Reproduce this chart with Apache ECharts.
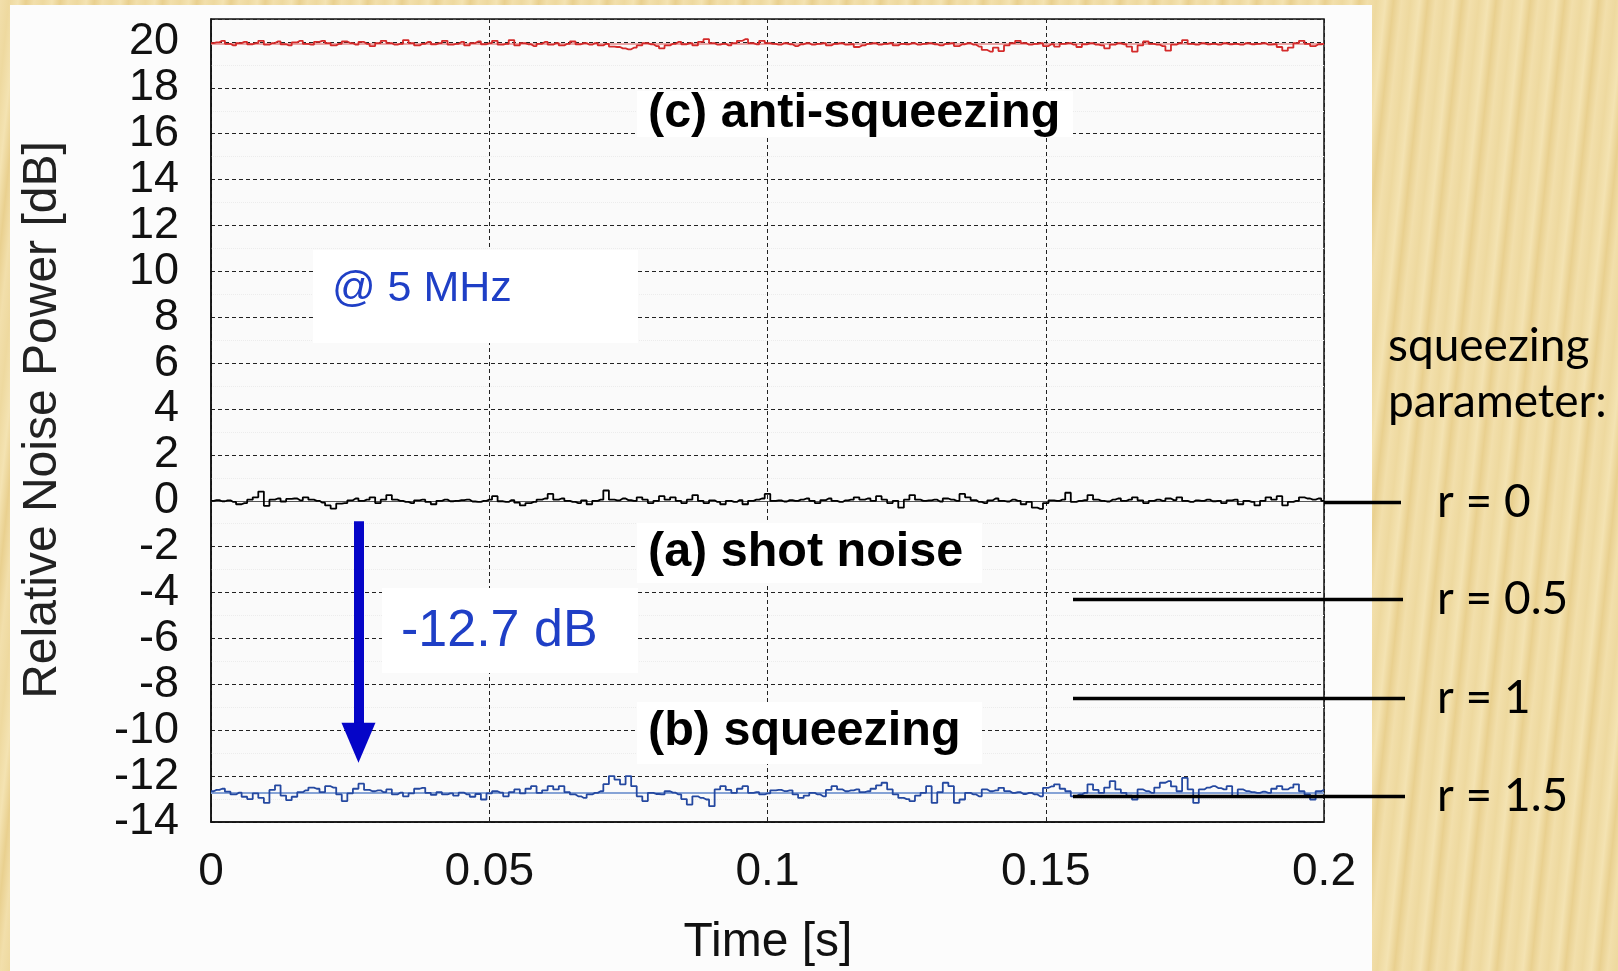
<!DOCTYPE html>
<html><head><meta charset="utf-8">
<script src="https://cdn.jsdelivr.net/npm/echarts@6/dist/echarts.min.js"></script>
<style>
html,body{margin:0;padding:0;width:1618px;height:971px;overflow:hidden;
background:repeating-linear-gradient(96deg,#f2dfab 0px,#eed99f 9px,#f4e3b2 18px,#e9d08f 26px,#f2dfab 34px);}
#panel{position:absolute;left:10px;top:5px;width:1362px;height:966px;background:#fcfcfc;}
#chart{position:absolute;left:0;top:0;width:1618px;height:971px;}
</style></head><body><div id="panel"></div><div id="chart"></div>
<script>
// ---------- data ----------
const SAMPLE_STEP = 0.001; // s between samples
const xTickLabels = ['0', '0.05', '0.1', '0.15', '0.2'];
const yTickValues = [-14, -12, -10, -8, -6, -4, -2, 0, 2, 4, 6, 8, 10, 12, 14, 16, 18, 20];

const antiSqueezing = [
19.95,19.98,20.05,19.92,19.85,19.95,20.00,19.90,19.95,20.05,
19.88,19.95,20.02,19.90,19.85,19.98,20.05,19.92,19.88,20.00,
20.05,19.95,19.85,19.92,20.02,19.95,19.88,20.00,19.92,19.82,
19.95,20.05,19.95,19.88,19.92,20.08,19.95,19.85,19.92,20.00,
19.90,19.95,20.05,19.88,19.92,20.00,19.85,19.95,20.02,19.90,
19.95,20.05,19.88,19.92,20.08,19.85,19.95,19.90,19.82,19.92,
20.00,19.88,19.95,19.85,19.92,20.02,19.90,19.95,19.88,19.95,
19.85,19.92,19.80,19.78,19.72,19.68,19.75,19.85,19.95,19.90,
19.82,19.72,19.85,19.92,20.00,19.90,19.95,19.85,20.00,20.12,
19.95,19.88,19.92,19.85,19.95,20.05,20.12,19.95,19.90,20.05,
19.95,19.92,19.88,19.95,19.90,19.82,19.90,19.95,19.88,19.92,
19.95,19.85,19.92,19.95,19.88,19.90,19.78,19.85,19.92,19.95,
19.88,19.92,19.95,19.85,19.92,19.90,19.95,19.88,19.92,19.95,
19.90,19.85,19.92,19.95,19.82,19.90,19.95,19.88,19.80,19.65,
19.58,19.75,19.60,19.85,19.95,20.05,19.95,19.88,19.92,19.95,
19.82,19.90,19.80,19.92,19.95,19.88,19.78,19.90,19.95,19.88,
19.85,19.72,19.88,19.95,19.90,19.80,19.58,19.85,20.02,19.92,
19.88,19.82,19.62,19.88,19.95,20.08,19.92,19.88,19.95,19.90,
19.92,19.88,19.95,19.90,19.92,19.88,19.95,19.90,19.92,19.95,
19.88,19.90,19.78,19.62,19.75,19.95,20.05,19.92,19.82,19.90,
19.92];

const shotNoise = [
0.00,0.03,-0.02,0.02,-0.05,-0.15,-0.10,0.05,0.15,0.40,
-0.22,0.05,0.10,-0.03,0.08,0.10,0.02,0.15,0.05,0.00,
-0.08,-0.20,-0.34,-0.12,-0.10,0.02,0.10,0.00,0.05,0.15,
-0.10,0.05,0.25,0.05,0.00,-0.05,-0.10,0.02,0.05,-0.05,
-0.15,0.00,0.05,-0.02,0.00,0.03,0.05,-0.03,-0.05,0.00,
0.05,0.20,-0.02,-0.05,0.03,-0.08,-0.20,-0.10,-0.05,0.05,
0.10,0.30,0.05,0.10,0.00,-0.05,-0.10,0.02,-0.15,0.00,
0.05,0.45,0.05,0.02,0.10,0.03,0.00,0.15,0.05,-0.10,
0.00,0.20,0.05,0.15,0.00,-0.10,0.05,0.25,0.00,-0.10,
0.02,-0.05,-0.15,0.00,-0.05,0.03,-0.15,0.00,0.05,0.10,
0.30,0.00,0.02,-0.03,0.03,0.00,0.05,0.10,0.00,-0.10,
0.03,0.10,0.00,-0.05,0.02,0.05,0.15,0.05,0.10,0.00,
0.20,0.05,-0.10,0.00,-0.30,0.05,0.25,0.05,0.00,0.02,
0.05,-0.03,0.10,0.05,0.00,0.30,0.15,0.03,-0.05,-0.10,
0.02,0.10,0.00,-0.03,0.05,0.00,-0.15,-0.05,-0.30,-0.35,
-0.10,0.02,0.00,0.05,0.35,-0.05,0.00,0.03,0.25,0.05,
0.00,-0.03,0.05,0.10,0.00,0.05,0.15,0.02,-0.10,0.00,
0.05,0.00,0.10,0.03,0.15,0.00,-0.05,0.02,0.00,0.05,
-0.02,0.00,-0.10,0.02,0.05,-0.15,0.00,-0.05,-0.20,0.00,
0.15,0.05,0.20,-0.20,-0.05,0.00,0.15,0.10,0.05,0.10,
0.00];

const squeezing = [
-12.66,-12.60,-12.55,-12.68,-12.80,-12.72,-12.90,-13.00,-12.75,-12.95,
-13.17,-12.60,-12.40,-12.85,-13.05,-12.90,-12.70,-12.62,-12.50,-12.55,
-12.70,-12.44,-12.50,-12.80,-13.09,-12.75,-12.55,-12.33,-12.60,-12.66,
-12.62,-12.70,-12.58,-12.80,-12.72,-12.88,-12.75,-12.55,-12.51,-12.73,
-12.82,-12.70,-12.80,-12.75,-12.85,-12.72,-12.80,-12.90,-12.78,-13.02,
-12.75,-12.66,-12.72,-12.88,-12.70,-12.58,-12.75,-12.55,-12.44,-12.73,
-12.62,-12.44,-12.58,-12.44,-12.70,-12.80,-12.88,-12.95,-12.80,-12.73,
-12.66,-12.35,-12.00,-12.15,-12.36,-12.00,-12.44,-12.88,-13.09,-12.73,
-12.78,-12.80,-12.66,-12.72,-12.80,-13.00,-13.24,-12.88,-12.95,-13.02,
-13.31,-12.58,-12.44,-12.60,-12.73,-12.55,-12.44,-12.73,-12.70,-12.80,
-12.75,-12.62,-12.60,-12.65,-12.62,-12.80,-12.95,-12.85,-12.73,-12.80,
-12.88,-12.60,-12.44,-12.58,-12.66,-12.62,-12.58,-12.70,-12.66,-12.55,
-12.40,-12.29,-12.58,-12.80,-12.95,-13.00,-13.09,-12.85,-12.73,-12.44,
-13.17,-12.70,-12.29,-12.44,-13.17,-13.02,-12.73,-12.80,-12.88,-12.58,
-12.66,-12.62,-12.51,-12.65,-12.73,-12.70,-12.78,-12.73,-12.80,-12.88,
-12.51,-12.45,-12.36,-12.55,-12.66,-12.88,-12.80,-12.73,-12.36,-12.60,
-12.73,-12.50,-12.22,-12.58,-12.73,-12.85,-13.02,-12.58,-12.65,-12.73,
-12.50,-12.29,-12.22,-12.45,-12.66,-12.08,-12.58,-13.17,-12.58,-12.50,
-12.44,-12.52,-12.58,-12.44,-12.88,-12.58,-12.65,-12.70,-12.73,-12.68,
-12.73,-12.55,-12.44,-12.58,-12.50,-12.36,-12.66,-12.80,-13.02,-12.66,
-12.60];

// mean levels of each trace
const antiMean = 19.92;
const shotMean = 0;
const squeezingMean = -12.73;

// arrow annotation (time, dB start, dB end)
const arrowTime = 0.0265;
const arrowFrom = -0.89;
const arrowTo = -10.55;

const annotationTexts = ['(c) anti-squeezing', '(a) shot noise', '(b) squeezing'];
const rLabels = ['r = 0', 'r = 0.5', 'r = 1', 'r = 1.5'];

// ---------- chart ----------
const toPairs = arr => arr.map((v, i) => [+(i * SAMPLE_STEP).toFixed(4), v]);
const chart = echarts.init(document.getElementById('chart'), null, {renderer: 'canvas'});

const SANS = '"Liberation Sans", Arial, sans-serif';
const LABEL_FONT = 'Lato, "Open Sans", sans-serif';
const gridDash = {color: '#222', width: 1, type: [4, 3]};

function meanLine(v, color, w) {
  return {silent: true, symbol: 'none', label: {show: false},
    lineStyle: {color: color, width: w, type: 'solid'}, data: [{yAxis: v}], z: 1};
}

function box(x, y, w, h) {
  return {type: 'rect', shape: {x, y, width: w, height: h}, style: {fill: '#ffffff'}, z: 50};
}
function txt(text, x, y, size, color, weight, family, extra) {
  return Object.assign({type: 'text', x, y, z: 60, style: {text, fill: color, font: (weight || 'normal') + ' ' + size + 'px ' + family, align: 'left', verticalAlign: 'middle'}}, extra || {});
}
function hline(x1, x2, y) {
  return {type: 'line', shape: {x1, y1: y, x2, y2: y}, style: {stroke: '#000', lineWidth: 3.5}, z: 70};
}

const rY = [502.5, 599.5, 698.6, 796.6];

const option = {
  animation: false,
  backgroundColor: 'transparent',
  grid: {left: 211, right: 294, top: 19, bottom: 149, show: true, backgroundColor: '#fafafa', borderColor: '#111', borderWidth: 1.5, containLabel: false},
  xAxis: {
    type: 'value', min: 0, max: 0.2, interval: 0.05,
    axisLine: {show: true, onZero: false, lineStyle: {color: '#111', width: 1.5}},
    axisTick: {show: false},
    splitLine: {show: true, lineStyle: gridDash},
    axisLabel: {margin: 27, fontSize: 46, fontFamily: SANS, color: '#111',
      formatter: v => xTickLabels[Math.round(v / 0.05)] ?? ''}
  },
  yAxis: {
    type: 'value', min: -14, max: 21, interval: 2,
    axisLine: {show: true, lineStyle: {color: '#111', width: 1.5}},
    axisTick: {show: false},
    splitLine: {show: true, lineStyle: gridDash},
    minorTick: {show: false, splitNumber: 2},
    minorSplitLine: {show: true, lineStyle: {color: '#ececec', width: 1, type: 'dotted'}},
    axisLabel: {margin: 32, fontSize: 45, fontFamily: SANS, color: '#111',
      formatter: v => yTickValues.includes(v) ? String(v) : ''}
  },
  series: [
    {type: 'line', name: 'anti-squeezing', data: toPairs(antiSqueezing), step: 'middle', showSymbol: false,
     lineStyle: {color: '#d42a2a', width: 1.8}, z: 5, markLine: meanLine(antiMean, '#e48a8a', 1.5)},
    {type: 'line', name: 'shot noise', data: toPairs(shotNoise), step: 'middle', showSymbol: false,
     lineStyle: {color: '#000', width: 1.8}, z: 5, markLine: meanLine(shotMean, '#555', 1)},
    {type: 'line', name: 'squeezing', data: toPairs(squeezing), step: 'middle', showSymbol: false,
     lineStyle: {color: '#2448a0', width: 1.8}, z: 5, markLine: meanLine(squeezingMean, '#86a3d6', 2)},
    {type: 'line', name: 'arrow', data: [], z: 8,
     markLine: {silent: true, label: {show: false}, animation: false,
       lineStyle: {color: '#0505c8', width: 10, type: 'solid'},
       data: [[{coord: [arrowTime, arrowFrom], symbol: 'none'},
               {coord: [arrowTime, arrowTo], symbol: 'triangle', symbolSize: [34, 40]}]]}}
  ],
  graphic: [
    box(637, 91, 436, 46),
    box(313, 250, 325, 93),
    box(637, 523, 345, 60),
    box(382, 588, 256, 85),
    box(637, 702, 345, 62),
    txt(annotationTexts[0], 648, 114, 48.5, '#000', 'bold', SANS),
    txt(annotationTexts[1], 648, 553, 48.5, '#000', 'bold', SANS),
    txt(annotationTexts[2], 648, 732, 48.5, '#000', 'bold', SANS),
    txt('@ 5 MHz', 332, 289, 43, '#1f3fc6', 'normal', SANS),
    txt('-12.7 dB', 401, 632, 52, '#1f3fc6', 'normal', SANS),
    txt('Relative Noise Power [dB]', 43, 420, 48, '#222', 'normal', SANS, {rotation: Math.PI / 2, style: {text: 'Relative Noise Power [dB]', fill: '#222', font: '48px ' + SANS, align: 'center', verticalAlign: 'middle'}}),
    txt('Time [s]', 768, 943, 48, '#111', 'normal', SANS, {style: {text: 'Time [s]', fill: '#111', font: '48px ' + SANS, align: 'center', verticalAlign: 'middle'}}),
    hline(1324, 1401, rY[0]),
    hline(1073, 1403, rY[1]),
    hline(1073, 1405, rY[2]),
    hline(1073, 1405, rY[3]),
    txt('squeezing', 1388, 346, 46, '#000', 'normal', LABEL_FONT),
    txt('parameter:', 1388, 402, 46, '#000', 'normal', LABEL_FONT),
    txt(rLabels[0], 1437, rY[0], 46, '#000', 'normal', LABEL_FONT),
    txt(rLabels[1], 1437, rY[1], 46, '#000', 'normal', LABEL_FONT),
    txt(rLabels[2], 1437, rY[2], 46, '#000', 'normal', LABEL_FONT),
    txt(rLabels[3], 1437, rY[3], 46, '#000', 'normal', LABEL_FONT)
  ]
};
chart.setOption(option);
</script></body></html>
